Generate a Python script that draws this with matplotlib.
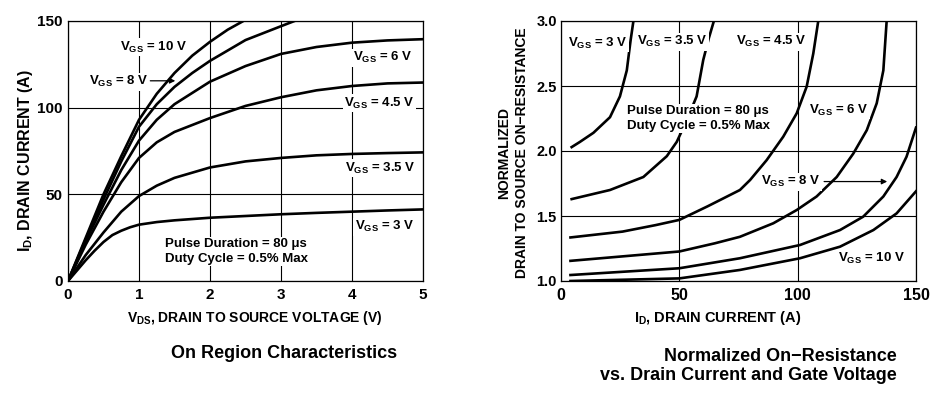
import matplotlib
matplotlib.use("Agg")
import matplotlib.pyplot as plt

plt.rcParams['font.family'] = 'Liberation Sans'
plt.rcParams['font.weight'] = 'bold'
plt.rcParams['mathtext.fontset'] = 'custom'
plt.rcParams['mathtext.rm'] = 'Liberation Sans:bold'
plt.rcParams['mathtext.it'] = 'Liberation Sans:bold'
plt.rcParams['mathtext.bf'] = 'Liberation Sans:bold'
plt.rcParams['mathtext.sf'] = 'Liberation Sans:bold'

# --- On region characteristics (ID vs VDS) ---
vds_10 = [0, 0.25, 0.5, 0.75, 1.0, 1.25, 1.5, 1.75, 2.0, 2.25, 2.47]
id_10 = [0, 25, 50, 72, 93, 108, 120, 130, 138, 145, 150]
vds_8 = [0, 0.25, 0.5, 0.75, 1.0, 1.25, 1.5, 1.75, 2.0, 2.5, 3.0, 3.19]
id_8 = [0, 24, 47, 69, 89, 102, 112, 120, 127, 139, 147, 150]
vds = [0, 0.25, 0.5, 0.75, 1.0, 1.25, 1.5, 2.0, 2.5, 3.0, 3.5, 4.0, 4.5, 5.0]
id_6 = [0, 23, 44, 64, 81, 93, 102, 115, 124, 131, 135, 137.5, 138.8, 139.5]
id_45 = [0, 21, 40, 57, 71, 80, 86, 94, 101, 106, 110, 112.5, 114, 114.5]
id_35 = [0, 15, 28, 40, 49, 55, 59.5, 65.5, 69, 71, 72.5, 73.3, 73.8, 74.2]
vds_3 = [0, 0.125, 0.25, 0.375, 0.5, 0.625, 0.75, 0.875, 1.0, 1.25, 1.5, 2.0, 2.5, 3.0, 3.5, 4.0, 4.5, 5.0]
id_3 = [0, 6, 12, 17.5, 22.5, 26.5, 29, 31, 32.5, 34, 35, 36.5, 37.5, 38.5, 39.3, 40, 40.7, 41.3]

# --- normalized on-resistance vs drain current ---
i_3 = [4.5, 8, 13.7, 20.7, 24.9, 27.8, 29.4, 30.6]
r_3 = [2.03, 2.07, 2.14, 2.26, 2.42, 2.62, 2.85, 3.0]
i_35 = [4.5, 20.7, 34.8, 44.7, 48.9, 53, 57.3, 60.1, 62.5, 64.6]
r_35 = [1.63, 1.70, 1.80, 1.96, 2.07, 2.23, 2.42, 2.70, 2.87, 3.0]
i_45 = [4, 26, 40, 50, 62, 75.6, 79.9, 86.9, 93.9, 99.6, 103.8, 106.6, 108.7]
r_45 = [1.335, 1.38, 1.43, 1.47, 1.575, 1.70, 1.777, 1.93, 2.11, 2.29, 2.495, 2.75, 3.0]
i_6 = [4, 50, 65, 75.6, 89.7, 99.6, 108, 116.5, 123.5, 129.2, 133.4, 136.2, 137.6]
r_6 = [1.155, 1.227, 1.29, 1.34, 1.444, 1.546, 1.65, 1.80, 1.98, 2.16, 2.367, 2.62, 3.0]
i_8 = [4, 50, 75.6, 101, 117.9, 127.7, 136.2, 141.8, 146, 150]
r_8 = [1.046, 1.098, 1.175, 1.277, 1.392, 1.495, 1.65, 1.80, 1.956, 2.18]
i_10 = [4, 50, 75.6, 101, 117.9, 132, 141.8, 150]
r_10 = [1.0, 1.02, 1.085, 1.175, 1.264, 1.392, 1.52, 1.69]

fig = plt.figure(figsize=(9.4, 3.94), dpi=100)
ax1 = fig.add_axes([68 / 940, 113 / 394, 355 / 940, 260 / 394])
ax2 = fig.add_axes([561 / 940, 113 / 394, 355 / 940, 260 / 394])

lw = 1.9
box = dict(facecolor='white', edgecolor='none', pad=1)
fs = 9.5

for ax in (ax1, ax2):
    ax.set_axisbelow(True)
    ax.grid(True, color='black', linewidth=0.8)
    ax.tick_params(length=0, labelsize=10.5)
    for s in ax.spines.values():
        s.set_linewidth(0.9)

# left chart
ax1.plot(vds_10, id_10, color='black', lw=lw)
ax1.plot(vds_8, id_8, color='black', lw=lw)
for y in (id_6, id_45, id_35):
    ax1.plot(vds, y, color='black', lw=lw)
ax1.plot(vds_3, id_3, color='black', lw=lw)
ax1.set_xlim(0, 5)
ax1.set_ylim(0, 150)
ax1.set_xticks([0, 1, 2, 3, 4, 5])
ax1.set_yticks([0, 50, 100, 150])
ax1.tick_params(axis='x', pad=5, labelsize=11)
ax1.tick_params(axis='y', pad=4, labelsize=11)

ax1.text(0.73, 135, '$V_{GS}$ = 10 V', fontsize=fs, va='center', bbox=box)
ax1.text(0.30, 115, '$V_{GS}$ = 8 V', fontsize=fs, va='center', bbox=box)
ax1.annotate('', xy=(1.55, 115.5), xytext=(1.12, 115.5),
             arrowprops=dict(arrowstyle='-|>', color='black', lw=0.9, mutation_scale=8))
ax1.text(4.01, 128.7, '$V_{GS}$ = 6 V', fontsize=fs, va='center', bbox=box)
ax1.text(3.89, 102.7, '$V_{GS}$ = 4.5 V', fontsize=fs, va='center', bbox=box)
ax1.text(3.90, 65.2, '$V_{GS}$ = 3.5 V', fontsize=fs, va='center', bbox=box)
ax1.text(4.04, 31.2, '$V_{GS}$ = 3 V', fontsize=fs, va='center', bbox=box)
ax1.text(1.37, 17, 'Pulse Duration = 80 \u03bcs\nDuty Cycle = 0.5% Max', fontsize=fs,
         va='center', linespacing=1.25, bbox=box)

# right chart
for x, y in ((i_3, r_3), (i_35, r_35), (i_45, r_45), (i_6, r_6), (i_8, r_8), (i_10, r_10)):
    ax2.plot(x, y, color='black', lw=lw)
ax2.set_xlim(0, 150)
ax2.set_ylim(1.0, 3.0)
ax2.set_xticks([0, 50, 100, 150])
ax2.set_yticks([1.0, 1.5, 2.0, 2.5, 3.0])
ax2.set_yticklabels(['1.0', '1.5', '2.0', '2.5', '3.0'])
ax2.tick_params(axis='x', pad=5, labelsize=11.5)
ax2.tick_params(axis='y', pad=3)

ax2.text(3, 2.83, '$V_{GS}$ = 3 V', fontsize=fs, va='center', bbox=box)
ax2.text(32, 2.84, '$V_{GS}$ = 3.5 V', fontsize=fs, va='center', bbox=box)
ax2.text(74, 2.84, '$V_{GS}$ = 4.5 V', fontsize=fs, va='center', bbox=box)
ax2.text(27.9, 2.25, 'Pulse Duration = 80 \u03bcs\nDuty Cycle = 0.5% Max', fontsize=fs,
         va='center', linespacing=1.25, bbox=box)
ax2.text(104.8, 2.315, '$V_{GS}$ = 6 V', fontsize=fs, va='center', bbox=box)
ax2.text(84.5, 1.765, '$V_{GS}$ = 8 V', fontsize=fs, va='center', bbox=box)
ax2.annotate('', xy=(139, 1.765), xytext=(110, 1.765),
             arrowprops=dict(arrowstyle='-|>', color='black', lw=0.9, mutation_scale=8))
ax2.text(117, 1.17, '$V_{GS}$ = 10 V', fontsize=fs, va='center', bbox=box)

# axis labels and titles
fig.text(26 / 940, 1 - 160 / 394, '$I_D$, DRAIN CURRENT (A)', rotation=90,
         fontsize=11.5, ha='center', va='center')
fig.text(255 / 940, 1 - 318 / 394, '$V_{DS}$, DRAIN TO SOURCE VOLTAGE (V)',
         fontsize=10, ha='center', va='center')
fig.text(513 / 940, 1 - 153 / 394, 'NORMALIZED\nDRAIN TO SOURCE ON\u2212RESISTANCE',
         rotation=90, fontsize=10, ha='center', va='center', linespacing=1.3)
fig.text(718 / 940, 1 - 318 / 394, '$I_D$, DRAIN CURRENT (A)',
         fontsize=10.5, ha='center', va='center')
fig.text(284 / 940, 1 - 353 / 394, 'On Region Characteristics',
         fontsize=13, ha='center', va='center')
fig.text(897 / 940, 1 - 366 / 394, 'Normalized On\u2212Resistance\nvs. Drain Current and Gate Voltage',
         fontsize=13, ha='right', va='center', multialignment='right', linespacing=1.2)

fig.savefig('out.png', dpi=100)
